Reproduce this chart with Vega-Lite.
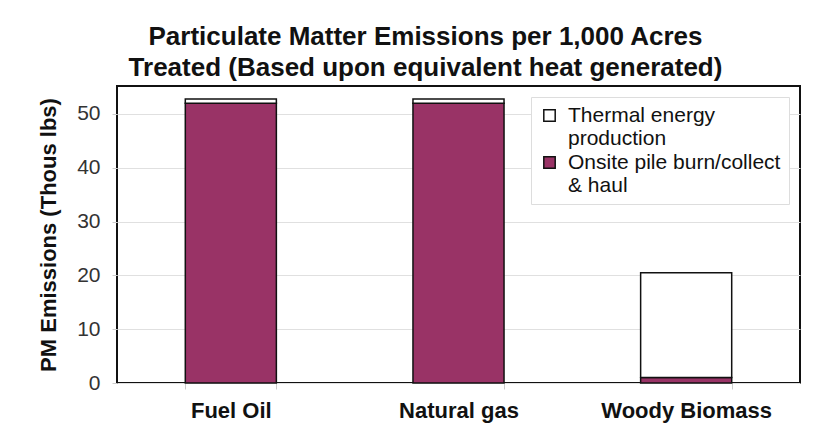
{
  "$schema": "https://vega.github.io/schema/vega-lite/v6.json",
  "width": 683,
  "height": 297,
  "autosize": {"type": "none"},
  "padding": {"left": 117, "top": 86, "right": 26, "bottom": 51},
  "background": "white",
  "title": {
    "text": ["Particulate Matter Emissions per 1,000 Acres", "Treated (Based upon equivalent heat generated)"],
    "font": "Liberation Sans",
    "fontSize": 26,
    "fontWeight": "bold",
    "color": "#111111",
    "lineHeight": 31,
    "anchor": "middle",
    "dx": -33,
    "offset": 5
  },
  "data": {
    "values": [
      {"source": "Fuel Oil", "component": "Onsite pile burn/collect & haul", "k": 1, "value": 52.0},
      {"source": "Fuel Oil", "component": "Thermal energy production", "k": 2, "value": 0.8},
      {"source": "Natural gas", "component": "Onsite pile burn/collect & haul", "k": 1, "value": 52.0},
      {"source": "Natural gas", "component": "Thermal energy production", "k": 2, "value": 0.8},
      {"source": "Woody Biomass", "component": "Onsite pile burn/collect & haul", "k": 1, "value": 1.0},
      {"source": "Woody Biomass", "component": "Thermal energy production", "k": 2, "value": 19.5}
    ]
  },
  "mark": {"type": "bar", "stroke": "#111111", "strokeWidth": 1.5},
  "encoding": {
    "x": {
      "field": "source",
      "type": "nominal",
      "sort": ["Fuel Oil", "Natural gas", "Woody Biomass"],
      "scale": {"paddingInner": 0.6, "paddingOuter": 0.3},
      "axis": {
        "title": null,
        "labelAngle": 0,
        "labelFont": "Liberation Sans",
        "labelFontSize": 22,
        "labelFontWeight": "bold",
        "labelColor": "#111111",
        "labelPadding": 11,
        "tickBand": "extent",
        "tickColor": "#cccccc",
        "tickSize": 6,
        "domain": false
      }
    },
    "y": {
      "field": "value",
      "type": "quantitative",
      "stack": "zero",
      "scale": {"domain": [0, 55.2], "nice": false},
      "axis": {
        "title": "PM Emissions (Thous lbs)",
        "titleFont": "Liberation Sans",
        "titleFontSize": 22,
        "titleFontWeight": "bold",
        "titleColor": "#111111",
        "titlePadding": 16,
        "values": [0, 10, 20, 30, 40, 50],
        "labelFont": "Liberation Sans",
        "labelFontSize": 21,
        "labelColor": "#333333",
        "labelPadding": 12,
        "tickColor": "#cccccc",
        "tickSize": 5,
        "gridColor": "#e0e0e0",
        "domain": false
      }
    },
    "color": {
      "field": "component",
      "type": "nominal",
      "sort": ["Thermal energy production", "Onsite pile burn/collect & haul"],
      "scale": {
        "domain": ["Thermal energy production", "Onsite pile burn/collect & haul"],
        "range": ["#ffffff", "#993366"]
      },
      "legend": {
        "title": null,
        "orient": "top-right",
        "offset": 11,
        "labelFont": "Liberation Sans",
        "labelFontSize": 21,
        "labelColor": "#111111",
        "labelExpr": "datum.label == 'Thermal energy production' ? ['Thermal energy', 'production'] : ['Onsite pile burn/collect', '& haul']",
        "labelLimit": 300,
        "labelOffset": 8,
        "symbolType": "square",
        "symbolSize": 130,
        "symbolStrokeColor": "#111111",
        "symbolStrokeWidth": 1.5,
        "strokeColor": "#dddddd",
        "fillColor": "white",
        "padding": 8,
        "rowPadding": 2
      }
    },
    "order": {"field": "k", "type": "quantitative"}
  },
  "config": {
    "view": {"stroke": "#111111", "strokeWidth": 2}
  }
}
